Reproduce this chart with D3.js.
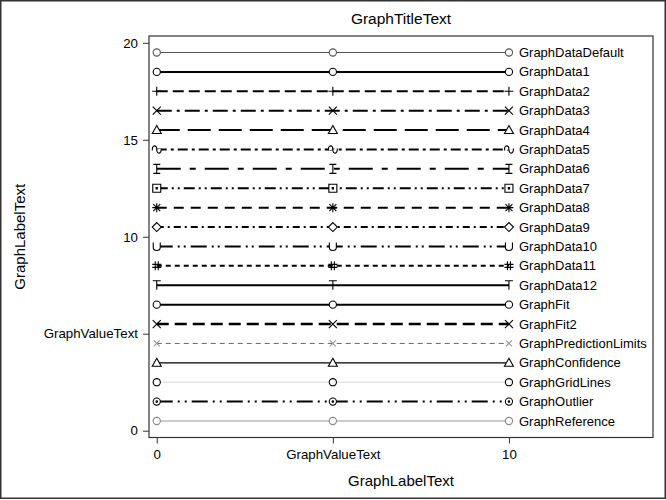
<!DOCTYPE html>
<html>
<head>
<meta charset="utf-8">
<script src="https://cdn.jsdelivr.net/npm/d3@7"></script>
<style>
  body { margin: 0; background: #fff; }
  text { font-family: "Liberation Sans", Arial, sans-serif; fill: #000; }
</style>
</head>
<body>
<script>
// series names, top to bottom
var seriesNames = ["GraphDataDefault", "GraphData1", "GraphData2", "GraphData3", "GraphData4",
    "GraphData5", "GraphData6", "GraphData7", "GraphData8", "GraphData9", "GraphData10",
    "GraphData11", "GraphData12", "GraphFit", "GraphFit2", "GraphPredictionLimits",
    "GraphConfidence", "GraphGridLines", "GraphOutlier", "GraphReference"];
var seriesY = [19.5, 18.5, 17.5, 16.5, 15.5, 14.5, 13.5, 12.5, 11.5, 10.5, 9.5,
    8.5, 7.5, 6.5, 5.5, 4.5, 3.5, 2.5, 1.5, 0.5];
var xValues = [0, 5, 10];
var xTicks = [0, 5, 10];
var xTickLabels = ["0", "GraphValueText", "10"];
var yTicks = [0, 5, 10, 15, 20];
var yTickLabels = ["0", "GraphValueText", "10", "15", "20"];

// look of each series: stroke, width, dash, marker
var styles = {
    GraphDataDefault: { c: "#555", w: 1.2, d: null, m: "circle" },
    GraphData1: { c: "#000", w: 2, d: null, m: "circle" },
    GraphData2: { c: "#000", w: 2, d: "11,5", m: "plus" },
    GraphData3: { c: "#000", w: 2, d: "15,5,3,5", m: "x" },
    GraphData4: { c: "#000", w: 2, d: "23,8", m: "triangle" },
    GraphData5: { c: "#000", w: 2, d: "10,4,3,4", m: "tilde" },
    GraphData6: { c: "#000", w: 2, d: "24,9,6,9", m: "ibeam" },
    GraphData7: { c: "#000", w: 2, d: "11,4,2,4,2,4", m: "squaredot" },
    GraphData8: { c: "#000", w: 2, d: "10,7", m: "star" },
    GraphData9: { c: "#000", w: 2, d: "7,4,2,4", m: "diamond" },
    GraphData10: { c: "#000", w: 2, d: "16,5,2,4,2,5", m: "u" },
    GraphData11: { c: "#000", w: 2, d: "5,4", m: "hash" },
    GraphData12: { c: "#000", w: 2, d: null, m: "tee" },
    GraphFit: { c: "#000", w: 2, d: null, m: "circle" },
    GraphFit2: { c: "#000", w: 2.5, d: "12,6", m: "x" },
    GraphPredictionLimits: { c: "#666", w: 1, d: "5,4", m: "xsmall", mc: "#999" },
    GraphConfidence: { c: "#000", w: 1.2, d: null, m: "triangle" },
    GraphGridLines: { c: "#e6e6e6", w: 1.5, d: null, m: "circle", mc: "#000" },
    GraphOutlier: { c: "#000", w: 2, d: "16,5,2,5,2,5", m: "circledot" },
    GraphReference: { c: "#999", w: 1.2, d: null, m: "circle", mc: "#888" }
};

function markerPath(m) {
    var p = d3.path();
    if (m == "circle" || m == "circledot") {
        p.arc(0, 0, 3.6, 0, 2 * Math.PI);
        if (m == "circledot") { p.moveTo(0.8, 0); p.arc(0, 0, 0.8, 0, 2 * Math.PI); }
    } else if (m == "plus") {
        p.moveTo(-4.5, 0); p.lineTo(4.5, 0); p.moveTo(0, -4.5); p.lineTo(0, 4.5);
    } else if (m == "x" || m == "xsmall") {
        var s = m == "x" ? 4 : 3;
        p.moveTo(-s, -s); p.lineTo(s, s); p.moveTo(-s, s); p.lineTo(s, -s);
    } else if (m == "triangle") {
        p.moveTo(0, -4.5); p.lineTo(4.5, 3.5); p.lineTo(-4.5, 3.5); p.closePath();
    } else if (m == "tilde") {
        p.moveTo(-4.5, 1); p.bezierCurveTo(-4.5, -5, 0, -5, 0, 0);
        p.bezierCurveTo(0, 5, 4.5, 5, 4.5, -1);
    } else if (m == "ibeam") {
        p.moveTo(-3.5, -4.5); p.lineTo(3.5, -4.5); p.moveTo(0, -4.5); p.lineTo(0, 4.5);
        p.moveTo(-3.5, 4.5); p.lineTo(3.5, 4.5);
    } else if (m == "squaredot") {
        p.rect(-4, -4, 8, 8); p.rect(-0.6, -0.6, 1.2, 1.2);
    } else if (m == "star") {
        p.moveTo(-4.5, 0); p.lineTo(4.5, 0); p.moveTo(0, -4.5); p.lineTo(0, 4.5);
        p.moveTo(-3.5, -3.5); p.lineTo(3.5, 3.5); p.moveTo(-3.5, 3.5); p.lineTo(3.5, -3.5);
    } else if (m == "diamond") {
        p.moveTo(0, -4.5); p.lineTo(4.5, 0); p.lineTo(0, 4.5); p.lineTo(-4.5, 0); p.closePath();
    } else if (m == "u") {
        p.moveTo(-3.5, -4); p.lineTo(-3.5, 1); p.bezierCurveTo(-3.5, 5, 3.5, 5, 3.5, 1); p.lineTo(3.5, -4);
    } else if (m == "hash") {
        p.moveTo(-1.5, -4.5); p.lineTo(-1.5, 4.5); p.moveTo(1.5, -4.5); p.lineTo(1.5, 4.5);
        p.moveTo(-4.5, -1.5); p.lineTo(4.5, -1.5); p.moveTo(-4.5, 1.5); p.lineTo(4.5, 1.5);
    } else if (m == "tee") {
        p.moveTo(-4, -4.5); p.lineTo(4, -4.5); p.moveTo(0, -4.5); p.lineTo(0, 4.5);
    }
    return p.toString();
}

var width = 666, height = 500;
var frame = { left: 149, right: 653, top: 36, bottom: 437.5 };

var svg = d3.select("body").append("svg").attr("width", width).attr("height", height);

// outer border
svg.append("rect").attr("x", 0.75).attr("y", 0.75).attr("width", width - 1.5).attr("height", 497.5)
    .attr("fill", "#fff").attr("stroke", "#333").attr("stroke-width", 1.5);

var x = d3.scaleLinear().domain([-0.22, 14.09]).range([frame.left, frame.right]);
var y = d3.scaleLinear().domain([-0.35, 20.35]).range([frame.bottom, frame.top]);

// axes
var xAxis = d3.axisBottom(x).tickValues(xTicks).tickSize(6).tickPadding(6)
    .tickFormat(function (d, i) { return xTickLabels[i]; });
var yAxis = d3.axisLeft(y).tickValues(yTicks).tickSize(6).tickPadding(5)
    .tickFormat(function (d, i) { return yTickLabels[i]; });

var gx = svg.append("g").attr("transform", "translate(0," + frame.bottom + ")").call(xAxis);
var gy = svg.append("g").attr("transform", "translate(" + frame.left + ",0)").call(yAxis);
[gx, gy].forEach(function (g) {
    g.select(".domain").remove();
    g.selectAll("line").attr("stroke", "#333").attr("stroke-width", 1);
    g.selectAll("text").attr("font-size", 13.3).attr("font-family", "Liberation Sans, Arial, sans-serif").attr("fill", "#000");
});

// series lines
var line = d3.line()
    .x(function (d) { return x(d.x); })
    .y(function (d) { return y(d.y); });

seriesNames.forEach(function (name, i) {
    var st = styles[name];
    var pts = xValues.map(function (v) { return { x: v, y: seriesY[i] }; });
    var g = svg.append("g").attr("class", "series" + i);
    g.append("path")
        .attr("d", line(pts))
        .attr("fill", "none")
        .attr("stroke", st.c)
        .attr("stroke-width", st.w)
        .attr("stroke-dasharray", st.d);
    g.selectAll("path.mk")
        .data(pts)
        .enter().append("path")
        .attr("class", "mk")
        .attr("transform", function (d) { return "translate(" + x(d.x) + "," + y(d.y) + ")"; })
        .attr("d", markerPath(st.m))
        .attr("fill", "#fff")
        .attr("stroke", st.mc || st.c)
        .attr("stroke-width", 1.1);
    g.append("text")
        .attr("x", x(10) + 10)
        .attr("y", y(seriesY[i]))
        .attr("dy", "0.35em")
        .attr("font-size", 13)
        .text(name);
});

// frame
svg.append("rect")
    .attr("x", frame.left).attr("y", frame.top)
    .attr("width", frame.right - frame.left).attr("height", frame.bottom - frame.top)
    .attr("fill", "none").attr("stroke", "#333").attr("stroke-width", 1.2);

// titles
svg.append("text").attr("x", (frame.left + frame.right) / 2).attr("y", 24).attr("text-anchor", "middle")
    .attr("font-size", 15.5).text("GraphTitleText");
svg.append("text").attr("x", (frame.left + frame.right) / 2).attr("y", 486).attr("text-anchor", "middle")
    .attr("font-size", 15).text("GraphLabelText");
svg.append("text")
    .attr("transform", "translate(25," + ((frame.top + frame.bottom) / 2) + ") rotate(-90)")
    .attr("text-anchor", "middle").attr("font-size", 15).text("GraphLabelText");
</script>
</body>
</html>
